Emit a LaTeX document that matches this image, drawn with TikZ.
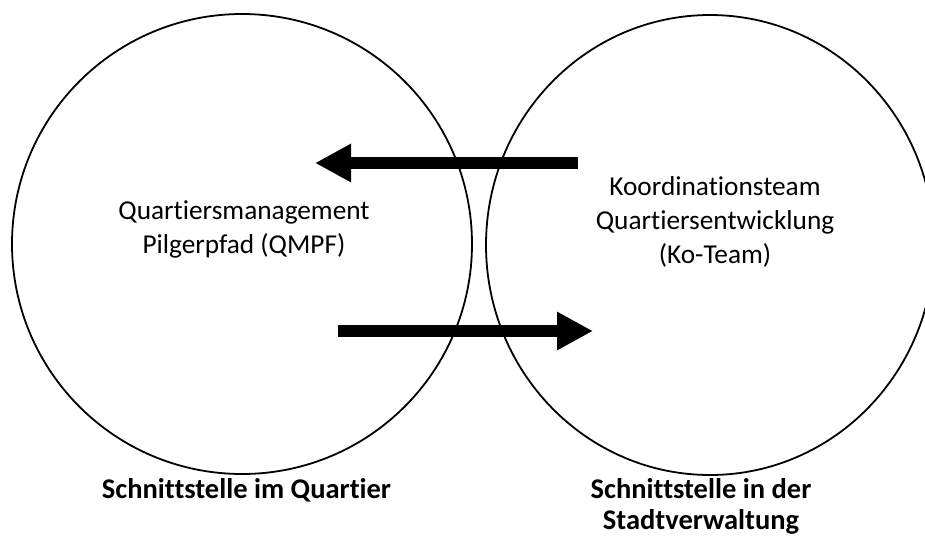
\documentclass[tikz,border=0pt]{standalone}
\usepackage{fontspec}
\setmainfont{Carlito}[Ligatures=NoCommon]
\usetikzlibrary{arrows.meta,shapes.geometric}
\tikzset{
  ring/.style={draw=black, line width=1.8pt, inner sep=0pt},
  flow/.style={line width=12.5pt, -{Triangle[length=36pt,width=36pt]}},
  plain/.style={align=center, anchor=base, inner sep=0pt, font=\fontsize{27.3}{34}\selectfont},
  caption/.style={align=center, anchor=base, inner sep=0pt, font=\fontsize{28.5}{31}\selectfont\bfseries},
}
\begin{document}
\begin{tikzpicture}[x=1pt,y=-1pt]
\useasboundingbox (0,0) rectangle (925,538);
\clip (0,0) rectangle (925,538);
\node[ring, circle, minimum size=460pt] (qm) at (242,244) {};
\node[ring, ellipse, minimum width=448pt, minimum height=460pt] (kt) at (710,245) {};
\node[plain] (qmtext) at (244,253) {Quartiersmanagement\\Pilgerpfad (QMPF)};
\node[plain] (kttext) at (715,263) {Koordinationsteam\\Quartiersentwicklung\\(Ko-Team)};
\node[caption] (qmcap) at (246.5,498) {Schnittstelle im Quartier};
\node[caption] (ktcap) at (701,529) {Schnittstelle in der\\Stadtverwaltung};
\coordinate (a1s) at (578,163);
\coordinate (a1e) at (315,163);
\coordinate (a2s) at (338,331);
\coordinate (a2e) at (593,331);
\draw[flow] (a1s) -- (a1e);
\draw[flow] (a2s) -- (a2e);
\end{tikzpicture}
\end{document}
